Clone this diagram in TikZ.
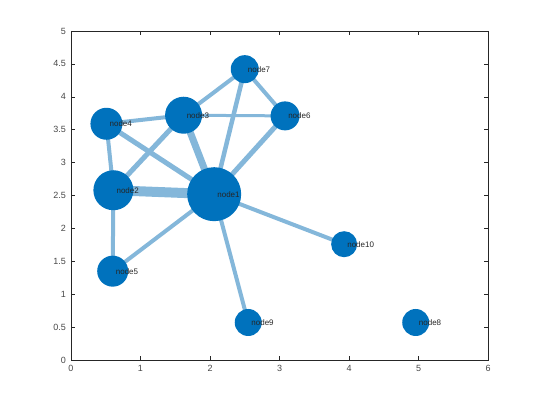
\documentclass[tikz,border=0pt]{standalone}
\usepackage{fontspec}
\setmainfont{Liberation Sans}
\usetikzlibrary{backgrounds}
\definecolor{nodeblue}{RGB}{0,114,189}
\definecolor{edgeblue}{RGB}{132,183,218}
\definecolor{axisgray}{RGB}{38,38,38}

\begin{document}
\begin{tikzpicture}[x=69.5pt,y=65.8pt,
    vertex/.style={circle, fill=nodeblue, inner sep=0pt},
    lbl/.style={font=\fontsize{8}{9}\selectfont, text=black!85, anchor=west, inner sep=0pt, xshift=3pt},
    link/.style={draw=edgeblue, line width=#1},
    link/.default=4pt,
    tick/.style={draw=axisgray, line width=0.5pt},
    ticklabel/.style={font=\fontsize{9}{10}\selectfont, text=axisgray!85, inner sep=0pt}]
  \useasboundingbox (-71pt,-45pt) rectangle (469pt,360pt);

  % axes box and ticks
  \draw[tick] (0,0) rectangle (6,5);
  \foreach \x in {0,...,6} {
    \draw[tick] (\x,0) -- ++(0,4pt);
    \draw[tick] (\x,5) -- ++(0,-4pt);
    \node[ticklabel, anchor=north, yshift=-5pt] (xt\x) at (\x,0) {\x};
  }
  \foreach \y [count=\i] in {0,0.5,1,1.5,2,2.5,3,3.5,4,4.5,5} {
    \draw[tick] (0,\y) -- ++(4pt,0);
    \draw[tick] (6,\y) -- ++(-4pt,0);
    \node[ticklabel, anchor=east, xshift=-5pt] (yt\i) at (0,\y) {\y};
  }

  % vertices
  \foreach \i/\px/\py/\d in {1/2.06/2.52/54pt, 2/0.61/2.58/40pt, 3/1.62/3.72/37pt,
      4/0.51/3.59/32pt, 5/0.60/1.35/31pt, 6/3.08/3.71/29pt, 7/2.50/4.42/28pt,
      8/4.96/0.57/27pt, 9/2.55/0.57/27pt, 10/3.93/1.76/26pt} {
    \node[vertex, minimum size=\d] (n\i) at (\px,\py) {};
    \node[lbl] (t\i) at (n\i.center) {node\i};
  }

  % edges
  \begin{pgfonlayer}{background}
    \draw[link=10pt] (n1.center) -- (n2.center);
    \draw[link=7pt] (n1.center) -- (n3.center);
    \draw[link=5pt] (n1.center) -- (n4.center);
    \draw[link] (n1.center) -- (n5.center);
    \draw[link=5pt] (n1.center) -- (n6.center);
    \draw[link=4.5pt] (n1.center) -- (n7.center);
    \draw[link] (n1.center) -- (n9.center);
    \draw[link] (n1.center) -- (n10.center);
    \draw[link=5pt] (n2.center) -- (n3.center);
    \draw[link] (n2.center) -- (n4.center);
    \draw[link] (n2.center) -- (n5.center);
    \draw[link] (n3.center) -- (n4.center);
    \draw[link=3pt] (n3.center) -- (n6.center);
    \draw[link] (n3.center) -- (n7.center);
    \draw[link] (n6.center) -- (n7.center);
  \end{pgfonlayer}
\end{tikzpicture}
\end{document}
